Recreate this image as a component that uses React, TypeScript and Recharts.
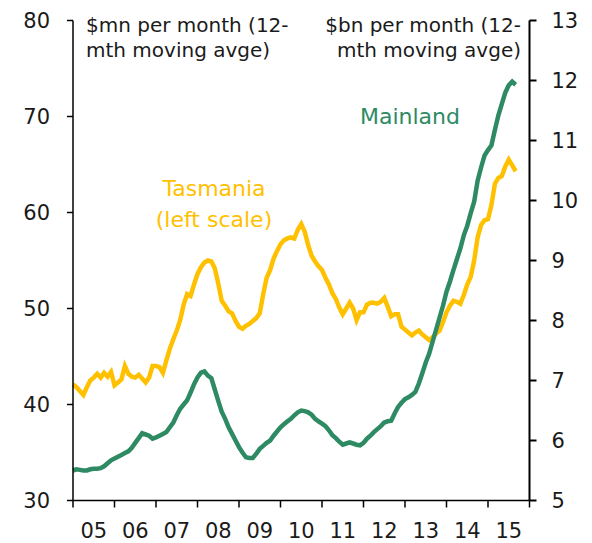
import React from "react";
import { LineChart, Line, XAxis, YAxis } from "recharts";

// monthly, Jan 2005 onwards; 12-month moving averages
const tasmania = [
  42.1, 41.8, 41.4, 41.0, 41.8, 42.5, 42.8, 43.2, 42.8, 43.3, 42.9, 43.4,
  42.0, 42.3, 42.6, 44.0, 43.2, 42.9, 42.8, 43.1, 42.7, 42.3, 42.8,
  44.0, 44.0, 43.9, 43.3, 44.6, 45.8, 46.8, 47.7, 48.8, 50.4,
  51.5, 51.3, 52.5, 53.6, 54.3, 54.8, 55.0, 54.9, 54.2, 52.6,
  50.8, 50.3, 49.7, 49.5, 48.7, 48.1, 47.9, 48.2, 48.4, 48.7,
  49.0, 49.5, 51.5, 53.2, 54.0, 55.2, 56.0, 56.7, 57.1, 57.3,
  57.4, 57.3, 58.2, 58.8, 58.0, 56.6, 55.5,
  54.9, 54.4, 54.0, 53.2, 52.5, 51.6, 51.0, 50.1, 49.4, 50.0,
  50.6, 50.0, 48.8, 49.6, 49.6, 50.4, 50.6, 50.6, 50.5, 50.7,
  51.1, 50.2, 49.2, 49.4, 49.4, 48.1, 47.8, 47.5, 47.2, 47.5,
  47.7, 47.3, 47.0, 46.7, 47.0, 47.4, 47.7, 48.6, 49.6, 50.3,
  50.8, 50.7, 50.5, 51.4, 52.5, 53.3, 55.0,
  57.4, 58.7, 59.2, 59.3, 60.8, 63.0, 63.6, 63.8, 64.8, 65.5, 64.9, 64.3,
];

const mainland = [
  5.5, 5.52, 5.51, 5.5, 5.5, 5.52, 5.53, 5.53, 5.54, 5.57, 5.62, 5.67,
  5.7, 5.73, 5.76, 5.79, 5.82, 5.88, 5.96, 6.04, 6.12, 6.1, 6.08,
  6.03, 6.05, 6.08, 6.11, 6.14, 6.22, 6.3, 6.42, 6.53, 6.6,
  6.67, 6.8, 6.94, 7.05, 7.13, 7.15, 7.08, 7.04, 6.85, 6.66,
  6.48, 6.36, 6.22, 6.11, 6.0, 5.89, 5.8, 5.72, 5.71, 5.71,
  5.78, 5.86, 5.91, 5.96, 6.0, 6.08, 6.15, 6.22, 6.27, 6.32,
  6.36, 6.42, 6.47, 6.5, 6.49, 6.47, 6.43,
  6.36, 6.32, 6.28, 6.24, 6.17, 6.09, 6.04, 5.98, 5.93, 5.95,
  5.97, 5.95, 5.93, 5.92, 5.96, 6.03, 6.08, 6.14, 6.19, 6.24,
  6.3, 6.32, 6.33, 6.45, 6.56, 6.63, 6.69, 6.72, 6.76, 6.81,
  6.95, 7.12, 7.3, 7.45, 7.65, 7.85, 8.05, 8.25, 8.48, 8.65,
  8.84, 9.02, 9.2, 9.42, 9.58, 9.79, 9.98,
  10.33, 10.55, 10.75, 10.84, 10.92, 11.18, 11.42, 11.61, 11.8, 11.92, 11.98, 11.93,
];

const yearLabels = ["05", "06", "07", "08", "09", "10", "11", "12", "13", "14", "15"];
const yearTicks = [0, 12, 24, 36, 48, 60, 72, 84, 96, 108, 120, 132];
const leftTicks = [30, 40, 50, 60, 70, 80];
const rightTicks = [5, 6, 7, 8, 9, 10, 11, 12, 13];

const YELLOW = "#FFC000";
const GREEN = "#2E8A63";
const TEXT = "#1a1a1a";
const FONT = "'DejaVu Sans', sans-serif";

const data = tasmania.map((t, i) => ({ m: i, tas: t, main: mainland[i] }));

const YEAR_PX = (529.5 - 73) / 11;

function YearTick(props: any) {
  const { x, payload } = props;
  const idx = yearTicks.indexOf(payload.value);
  if (idx < 0 || idx >= yearLabels.length) return <g />;
  return (
    <text
      x={x + YEAR_PX / 2}
      y={531}
      textAnchor="middle"
      dominantBaseline="central"
      fontSize={21}
      fontFamily={FONT}
      fill={TEXT}
    >
      {yearLabels[idx]}
    </text>
  );
}

const note: React.CSSProperties = {
  position: "absolute",
  fontFamily: FONT,
  fontSize: 20,
  lineHeight: "25px",
  color: TEXT,
  whiteSpace: "nowrap",
};

export default function App() {
  return (
    <div style={{ position: "absolute", left: 0, top: 0, width: 592, height: 543, background: "#fff" }}>
      <LineChart
        width={592}
        height={543}
        data={data}
        margin={{ top: 20.5, right: 0, left: 0, bottom: 0 }}
      >
        <XAxis
          dataKey="m"
          type="number"
          domain={[0, 132]}
          ticks={yearTicks}
          interval={0}
          height={42.5}
          tick={<YearTick />}
          tickSize={7}
          stroke="#000"
          strokeWidth={1.5}
        />
        <YAxis
          yAxisId="left"
          domain={[30, 80]}
          ticks={leftTicks}
          width={73}
          tickSize={6}
          tickMargin={17}
          stroke="#000"
          strokeWidth={1.5}
          tick={{ fontSize: 21, fontFamily: FONT, fill: TEXT }}
        />
        <YAxis
          yAxisId="right"
          orientation="right"
          domain={[5, 13]}
          ticks={rightTicks}
          width={62.5}
          tickSize={7}
          tickMargin={15}
          stroke="#000"
          strokeWidth={2}
          tick={{ fontSize: 21, fontFamily: FONT, fill: TEXT }}
        />
        <Line
          yAxisId="left"
          dataKey="tas"
          stroke={YELLOW}
          strokeWidth={4.5}
          dot={false}
          type="linear"
          isAnimationActive={false}
        />
        <Line
          yAxisId="right"
          dataKey="main"
          stroke={GREEN}
          strokeWidth={4.5}
          dot={false}
          type="linear"
          isAnimationActive={false}
        />
      </LineChart>
      <div style={{ ...note, left: 86, top: 13 }}>
        $mn per month (12-
        <br />
        mth moving avge)
      </div>
      <div style={{ ...note, right: 592 - 521, top: 13, textAlign: "right" }}>
        $bn per month (12-
        <br />
        mth moving avge)
      </div>
      <div
        style={{
          ...note,
          color: YELLOW,
          fontSize: 22,
          lineHeight: "31px",
          left: 214,
          top: 173,
          transform: "translateX(-50%)",
          textAlign: "center",
        }}
      >
        Tasmania
        <br />
        (left scale)
      </div>
      <div
        style={{
          ...note,
          color: GREEN,
          fontSize: 22,
          left: 410,
          top: 104,
          transform: "translateX(-50%)",
        }}
      >
        Mainland
      </div>
    </div>
  );
}
